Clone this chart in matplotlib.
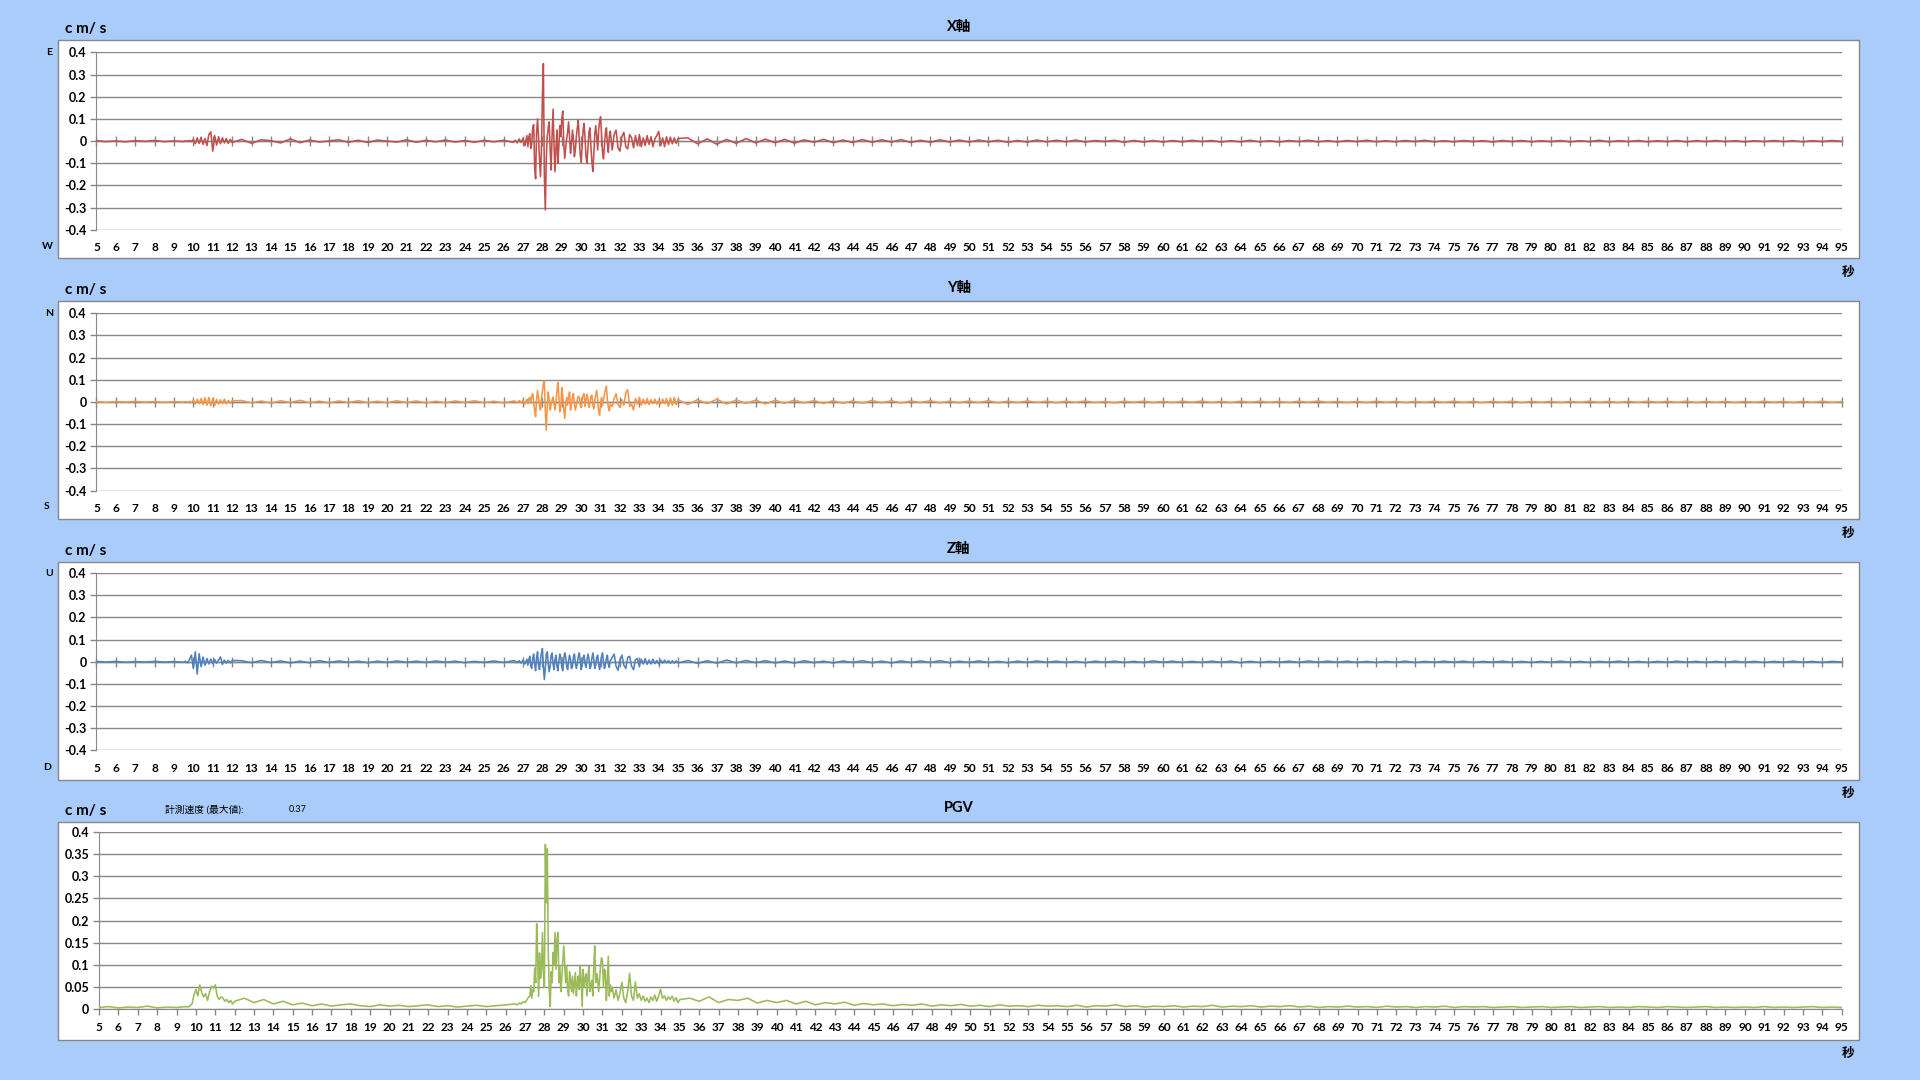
import numpy as np
import matplotlib
matplotlib.use('Agg')
import matplotlib.pyplot as plt
from matplotlib.patches import Rectangle
from matplotlib.ticker import FuncFormatter

plt.rcParams['font.family'] = ['Lato', 'Noto Sans CJK JP', 'DejaVu Sans']
plt.rcParams['font.weight'] = 'bold'

# sampling segments of the record: (start time [s], step [s])
segments = [(5.0, 0.5), (9.6, 0.1), (12.5, 0.5), (26.6, 0.1),
            (27.25, 0.05), (31.6, 0.1), (35.5, 0.5)]

# velocity values in 0.001 cm/s, one list per segment
x_vals = [
    [2, -2, 1, -3, 2, -1, 3, -2, 1, -2],
    [2, -1, 3, -2, 8, -12, 15, -10, 18, -15, 12, -20, 30, 42, -45, 25, -18, 20, -12, 15,
     -8, 12, -10, 8, -6],
    [8, -10, 6, 2, -8, 10, -7, 5, -4, 1, 6, -5, 4, -6, 5, 0, -4, 6, -5, 4, -3, 5, -4, 3,
     -5, 4, -3, 4, -5],
    [4, -8, 10, -6, 12, -20, 25],
    [-25, 20, 34, -33, -10, 60, 75, -120, -170, 40, 100, 20, -80, -160, -40,
     200, 350, -150, -310, -80, 20, 60, 87, -40, -130, 30, 144, -20, -138, -30, 50, -100, -20, 70, 20,
     100, 136, -10, -78, -30, 10, 40, 87, 20, -55, -10, 50, 10, -70, -40, 20, 60, 95, 10, -60,
     -95, -20, 50, 80, 10, -70, -100, -30, 40, 60, -20, -90, -137, -60, 30, 70, 20, -40, 50, 90,
     110, 30, -50, -80, -20, 40, 60, -10, -50, 20, 45],
    [-40, 30, 50, -30, -45, 20, 40, -25, -35, 30, 15, -30, 25, -20, 30, -25, 15, -20, 25, -15,
     20, -25, 10, 25, 44, -20, 15, -25, 20, -15, 18, -12, 15, -10, 12],
    [15, -12, 10, -14, 8, -10, 12, -8, 9,
     -7, 8, -9, 6, -5, 8, -7, 5, -6, 7, -5, 6, -4, 7, -6, 4, -5, 6, -4, 5,
     -4, 5, -3, 4, -5, 3, -4, 5, -3, 4, -3, 5, -4, 3, -2, 4, -5, 3, -4, 3,
     -4, 3, -3, 4, -2, 3, -4, 2, -3, 4, -3, 2, -4, 3, -2, 4, -3, 2, -3, 3,
     -2, 4, -3, 2, -3, 3, -2, 4, -3, 2, -3, 3, -2, 2, -4, 3, -2, 3, -3, 2,
     -2, 3, -3, 2, -2, 4, -3, 2, -2, 3, -3, 2, -2, 3, -3, 2, -2, 3, -2, 2,
     -3, 2, -2, 3, -2, 2, -3, 2, -2, 3, -1],
]

y_vals = [
    [1, -2, 1, -1, 2, -1, 1, -2, 1, -1],
    [1, -2, 2, -3, 8, -10, 12, -8, 15, -12, 18, -15, 20, -18, 14, -16, 12, -10, 10, -8,
     12, -9, 7, -6, 5],
    [6, -5, 4, -6, 5, -3, 7, -4, 3, -5, 4, -3, 5, -4, 3, -4, 5, -3, 4, -5, 3, -4, 4, -3,
     5, -4, 3, -5, 4],
    [3, -5, 6, -4, 8, -10, 12],
    [-8, 15, 20, -5, 25, 37, 5, -40, -67, 10, 52, 20, -15, -37, 10,
     50, 80, 94, -40, -127, -20, 45, 10, -37, -10, 10, 22, -10, -37, 0, 50, 87, 20, -45, -10,
     64, 30, -30, -75, -20, 20, -15, 20, 45, -37, -10, 25, 37, -10, -37, -15, 10, 25, 20, -15,
     -25, 10, 30, 37, -20, 5, 35, 10, -25, -10, 25, 30, -10, -30, 10, 30, 52, 5, -40, -60,
     -10, 20, -15, 10, 35, 55, 70, 10, -25, -40, -10],
    [-20, 15, 37, -10, -25, 10, -15, 40, 55, -20, -10, -37, 15, -10, 20, -15, 12, -10, 15, -12,
     10, -8, 12, -10, 8, -10, 12, -8, 15, -20, 18, -15, 20, -12, 10],
    [-12, 10, -8, 12, -10, 9, -7, 8, -9,
     7, -6, 8, -5, 6, -7, 5, -6, 4, -5, 6, -4, 5, -5, 4, -3, 5, -4, 3, -4,
     4, -3, 5, -4, 3, -3, 4, -2, 3, -4, 3, -2, 4, -3, 2, -4, 3, -2, 3, -3,
     2, -3, 3, -2, 4, -3, 2, -3, 3, -2, 3, -2, 2, -3, 3, -2, 4, -2, 2, -3,
     2, -3, 3, -2, 2, -3, 2, -2, 3, -2, 3, -2, 2, -3, 2, -2, 3, -3, 2, -2,
     2, -3, 2, -2, 3, -2, 2, -3, 2, -2, 3, -2, 2, -2, 3, -3, 2, -2, 2, -3,
     2, -2, 3, -2, 2, -3, 2, -2, 3, -2, 1],
]

z_vals = [
    [2, -1, 2, -2, 1, -1, 2, -1, 1, -2],
    [3, -5, 10, 30, -30, 45, -55, 37, -22, 22, -15, 15, -10, 12, -8, 10, -6, 8, 22, -12,
     8, -6, 7, -5, 6],
    [5, -4, 6, -3, 4, -5, 3, -4, 5, -3, 4, -2, 3, -4, 3, -3, 4, -2, 3, -3, 4, -2, 3, -4,
     2, -3, 4, -3, 5],
    [3, -4, 5, -6, 8, -10, 12],
    [-15, 10, 25, -20, -30, 15, 35, -10, -40, 20, 45, -15, -35, 10, 40,
     60, -20, -80, -30, 35, 45, -10, -45, -20, 30, 40, -10, -35, 10, 30, -20, -40, 5, 35, 20,
     -25, -40, 10, 40, 25, -20, -35, 5, 30, 10, -30, -20, 20, 35, -5, -30, -10, 25, 40, 5,
     -35, -15, 20, 30, -10, -25, 10, 35, 15, -30, -20, 15, 40, 10, -30, -15, 20, 30, -10, -35,
     -5, 25, 40, 0, -30, -15, 15, 30, -10, -25, 5],
    [20, 35, -20, -38, 10, 30, -15, -30, 20, 25, -20, -35, 10, 15, -20, 12, -10, 15, -12, 8,
     -10, 12, -8, 6, -10, 8, -6, 8, -5, 6, -7, 5, -6, 4, -5],
    [6, -7, 5, -6, 8, -5, 6, -4, 5,
     -5, 4, -6, 5, -4, 3, -5, 4, -3, 5, -4, 3, -5, 4, -3, 4, -3, 5, -4, 3,
     -3, 4, -3, 2, -4, 3, -3, 4, -2, 3, -3, 2, -4, 3, -2, 3, -3, 2, -3, 4,
     -2, 3, -3, 2, -3, 3, -2, 3, -4, 2, -3, 2, -2, 3, -3, 4, -2, 3, -2, 3,
     -3, 2, -3, 2, -2, 3, -3, 2, -2, 3, -2, 3, -3, 2, -2, 3, -2, 2, -3, 2,
     -2, 3, -2, 2, -3, 2, -2, 3, -2, 2, -3, 2, -2, 3, -2, 2, -3, 2, -2, 3,
     -2, 2, -3, 2, -2, 3, -2, 2, -3, 2, -1],
]

pgv_vals = [
    [4, 6, 3, 5, 4, 7, 3, 5, 4, 6],
    [5, 8, 12, 32, 45, 30, 55, 38, 28, 35, 20, 38, 52, 48, 55, 30, 22, 28, 25, 18,
     22, 15, 20, 12, 18],
    [25, 15, 22, 12, 18, 10, 14, 8, 12, 7, 10, 12, 8, 6, 10, 7, 9, 6, 8, 10, 6, 8, 5, 7,
     9, 6, 8, 10, 12],
    [10, 14, 12, 17, 15, 22, 28],
    [30, 53, 25, 45, 40, 93, 60, 193, 120, 29, 127, 70, 90, 173, 80,
     50, 372, 240, 362, 127, 44, 6, 85, 60, 128, 100, 173, 90, 157, 173, 60, 97, 40, 70, 110,
     143, 100, 60, 97, 45, 30, 85, 65, 40, 75, 35, 60, 83, 30, 60, 75, 45, 97, 65, 6,
     90, 50, 70, 80, 30, 75, 97, 40, 55, 65, 30, 100, 143, 60, 80, 70, 40, 65, 100, 116,
     110, 50, 90, 85, 20, 60, 120, 30, 55, 40, 50],
    [25, 44, 20, 35, 61, 25, 15, 40, 81, 30, 20, 62, 25, 35, 20, 30, 18, 25, 15, 28,
     20, 32, 18, 30, 45, 25, 30, 20, 28, 22, 30, 18, 26, 15, 22],
    [25, 18, 28, 15, 22, 20, 25, 14, 20,
     15, 20, 12, 18, 10, 15, 12, 16, 9, 13, 10, 12, 8, 11, 9, 12, 7, 10, 8, 11,
     7, 9, 6, 10, 7, 8, 6, 9, 7, 8, 6, 9, 5, 8, 7, 10, 6, 8, 5, 7,
     6, 8, 5, 7, 6, 9, 5, 7, 6, 8, 5, 7, 6, 8, 5, 7, 4, 6, 5, 7,
     5, 6, 4, 7, 5, 6, 4, 6, 5, 7, 4, 6, 5, 6, 4, 5, 6, 4, 5, 6,
     4, 5, 6, 4, 5, 6, 4, 5, 4, 6, 5, 4, 6, 5, 4, 5, 6, 4, 5, 4,
     5, 4, 6, 4, 5, 4, 5, 6, 4, 5, 4],
]

BG = '#AACCFA'
GRID = '#878787'


def build(parts):
    t, v = [], []
    for (start, step), vals in zip(segments, parts):
        t.append(start + step * np.arange(len(vals)))
        v.append(np.array(vals) / 1000.0)
    return np.concatenate(t), np.concatenate(v)


def fmt(v, pos):
    if abs(v) < 1e-9:
        return '0'
    return f"{round(v, 2):g}"


panels = [
    # title, data, colour, top letter, bottom letter, box bottom, axes bottom, axes left
    ('X軸', x_vals, '#C0504D', 'E', 'W', 0.7608, 0.7872, 0.0502),
    ('Y軸', y_vals, '#F79646', 'N', 'S', 0.5193, 0.5458, 0.0502),
    ('Z軸', z_vals, '#4F81BD', 'U', 'D', 0.2778, 0.3051, 0.0502),
    ('PGV', pgv_vals, '#9BBB59', None, None, 0.0374, 0.0655, 0.0516),
]

fig = plt.figure(figsize=(19.2, 10.8), dpi=100, facecolor=BG)
box_h = 0.2018
ax_h = 0.1642
ax_right = 0.9592

for title, parts, color, top_l, bot_l, box_y, ax_y, ax_x in panels:
    fig.add_artist(Rectangle((0.030, box_y), 0.9381, box_h, transform=fig.transFigure,
                             facecolor='white', edgecolor=GRID, lw=1.0, zorder=-1))
    ax = fig.add_axes([ax_x, ax_y, ax_right - ax_x, ax_h])
    ax.set_facecolor('white')
    t, v = build(parts)
    ax.plot(t, v, color=color, lw=1.15, zorder=3)

    ax.set_xlim(5, 95)
    ax.set_xticks(range(5, 96))
    if title == 'PGV':
        ax.set_ylim(0, 0.4)
        ax.set_yticks(np.arange(0, 0.401, 0.05))
        ax.tick_params(axis='x', direction='out', length=4, width=1, color=GRID, pad=5,
                       labelsize=8.5)
        ax.spines['bottom'].set_color(GRID)
    else:
        ax.set_ylim(-0.4, 0.4)
        ax.set_yticks(np.arange(-0.4, 0.401, 0.1))
        ax.tick_params(axis='x', length=0, pad=9, labelsize=8.5)
        ax.spines['bottom'].set_visible(False)
        zero = ax.secondary_xaxis(0.5)
        zero.set_xticks(range(5, 96))
        zero.tick_params(direction='inout', length=7, width=1, color=GRID,
                         labeltop=False, labelbottom=False)
        for s in zero.spines.values():
            s.set_color(GRID)
            s.set_linewidth(1.0)
    ax.yaxis.set_major_formatter(FuncFormatter(fmt))
    ax.tick_params(axis='y', direction='out', length=4, width=1, color=GRID, pad=3,
                   labelsize=9)
    for s in ('top', 'right'):
        ax.spines[s].set_visible(False)
    ax.spines['left'].set_color(GRID)
    ax.yaxis.grid(True, color=GRID, lw=1.0)
    ax.set_axisbelow(True)

    top = box_y + box_h
    fig.text(0.0338, top + 0.0102, 'c m/ s', fontsize=11, ha='left', va='center')
    fig.text(0.4994, top + 0.0125, title, fontsize=10.5, ha='center', va='center')
    fig.text(0.9624, box_y - 0.0125, '秒', fontsize=9, ha='center', va='center')
    if top_l:
        fig.text(0.0255, ax_y + ax_h, top_l, fontsize=7.5, ha='center', va='center')
        fig.text(0.0245, box_y + 0.0113, bot_l, fontsize=7.5, ha='center', va='center')
    else:
        fig.text(0.0861, top + 0.0113, '計測速度 (最大値):', fontsize=7,
                 fontweight='normal', ha='left', va='center')
        fig.text(0.1505, top + 0.0113, f"{v.max():.2f}", fontsize=6.5,
                 fontweight='normal', ha='left', va='center')

fig.savefig('out.png', dpi=100, facecolor=BG)
